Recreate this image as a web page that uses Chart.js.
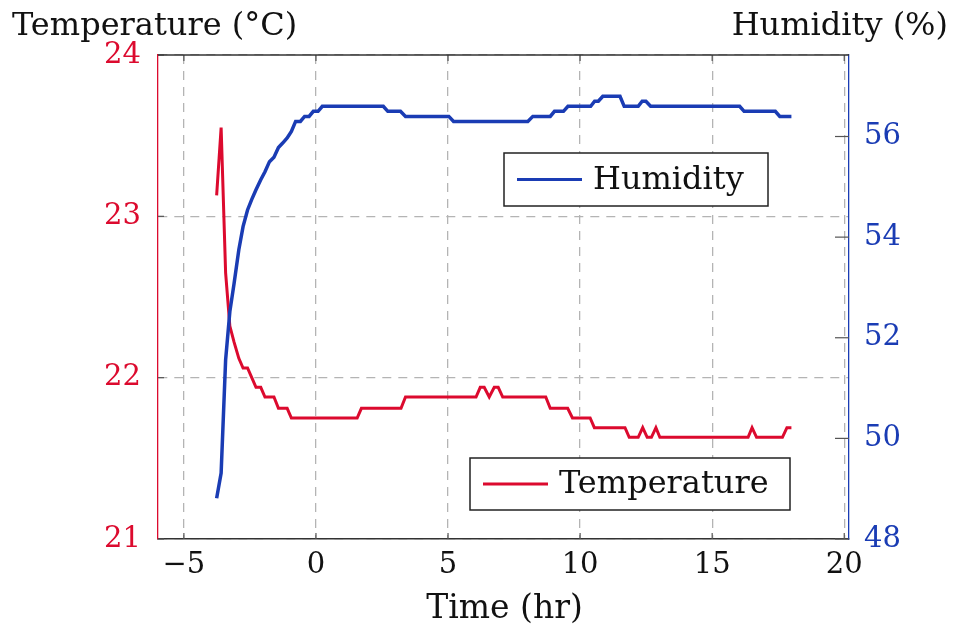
<!DOCTYPE html>
<html>
<head>
<meta charset="utf-8">
<script src="https://cdn.jsdelivr.net/npm/chart.js@4"></script>
<style>
  html, body { margin: 0; padding: 0; background: #fff; }
  #wrap { width: 968px; height: 628px; }
</style>
</head>
<body>
<div id="wrap"><canvas id="c" width="968" height="628"></canvas></div>
<script>
// temperature log (hr, °C)
const tempTime = [-3.76, -3.59, -3.42, -3.26, -3.10, -2.92, -2.76, -2.59, -2.43, -2.27, -2.09, -1.93, -1.59, -1.42, -1.09, -0.93,
  1.56, 1.72, 3.22, 3.39, 6.06, 6.22, 6.37, 6.56, 6.75, 6.90, 7.07, 8.70, 8.87, 9.53, 9.71, 10.38, 10.54, 11.70, 11.86,
  12.20, 12.37, 12.54, 12.70, 12.87, 13.02, 16.36, 16.51, 16.68, 17.66, 17.83, 18.00];
const tempVal = [23.13, 23.55, 22.65, 22.32, 22.22, 22.12, 22.06, 22.06, 22.00, 21.94, 21.94, 21.88, 21.88, 21.81, 21.81, 21.75,
  21.75, 21.81, 21.81, 21.88, 21.88, 21.94, 21.94, 21.88, 21.94, 21.94, 21.88, 21.88, 21.81, 21.81, 21.75, 21.75, 21.69, 21.69, 21.63,
  21.63, 21.69, 21.63, 21.63, 21.69, 21.63, 21.63, 21.69, 21.63, 21.63, 21.69, 21.69];

// humidity log (hr, %)
const humTime = [-3.76, -3.59, -3.42, -3.26, -3.10, -2.92, -2.76, -2.59, -2.43, -2.27, -2.09, -1.93, -1.76, -1.59, -1.42, -1.26,
  -1.09, -0.93, -0.77, -0.59, -0.43, -0.26, -0.10, 0.08, 0.24, 2.55, 2.72, 3.20, 3.39, 5.03, 5.21, 8.02, 8.21, 8.87, 9.03, 9.37,
  9.54, 10.40, 10.55, 10.69, 10.86, 11.51, 11.67, 12.20, 12.35, 12.49, 12.67, 16.04, 16.21, 17.39, 17.56, 18.00];
const humVal = [48.81, 49.31, 51.56, 52.52, 53.08, 53.75, 54.21, 54.54, 54.75, 54.94, 55.14, 55.30, 55.50, 55.59, 55.78, 55.87,
  55.97, 56.10, 56.3, 56.3, 56.4, 56.4, 56.5, 56.5, 56.6, 56.6, 56.5, 56.5, 56.4, 56.4, 56.3, 56.3, 56.4, 56.4, 56.5, 56.5,
  56.6, 56.6, 56.7, 56.7, 56.8, 56.8, 56.6, 56.6, 56.7, 56.7, 56.6, 56.6, 56.5, 56.5, 56.4, 56.4];

const xTicks = [-5, 0, 5, 10, 15, 20];
const tempTicks = [21, 22, 23, 24];
const humTicks = [48, 50, 52, 54, 56];

const RED = '#dc0a2e';
const BLUE = '#1a3cb4';
const SERIF = '"DejaVu Serif", serif';
const GRID_DASH = [9, 7];

function pts(xs, ys) {
  return xs.map((x, i) => ({ x: x, y: ys[i] }));
}

const minus = v => String(v).replace('-', '\u2212');

// frame, inner tick marks, axis titles and the two legend boxes
const decor = {
  id: 'decor',
  afterDraw(chart) {
    const ctx = chart.ctx;
    const a = chart.chartArea;
    const sx = chart.scales.x, sl = chart.scales.yL, sr = chart.scales.yR;
    ctx.save();

    // short tick marks pointing inward
    ctx.lineWidth = 1.2;
    ctx.strokeStyle = '#555';
    xTicks.forEach(v => {
      const px = sx.getPixelForValue(v);
      ctx.beginPath();
      ctx.moveTo(px, a.bottom); ctx.lineTo(px, a.bottom - 6);
      ctx.moveTo(px, a.top); ctx.lineTo(px, a.top + 6);
      ctx.stroke();
    });
    tempTicks.forEach(v => {
      const py = sl.getPixelForValue(v);
      ctx.beginPath(); ctx.moveTo(a.left, py); ctx.lineTo(a.left + 6, py); ctx.stroke();
    });
    humTicks.forEach(v => {
      const py = sr.getPixelForValue(v);
      ctx.beginPath(); ctx.moveTo(a.right, py); ctx.lineTo(a.right - 14, py); ctx.stroke();
    });

    // top edge
    ctx.strokeStyle = '#333';
    ctx.lineWidth = 1.5;
    ctx.beginPath(); ctx.moveTo(a.left, a.top); ctx.lineTo(a.right, a.top); ctx.stroke();

    // titles
    ctx.fillStyle = '#111';
    ctx.font = '32px ' + SERIF;
    ctx.textBaseline = 'middle';
    ctx.textAlign = 'left';
    ctx.fillText('Temperature (\u00b0C)', 12, 27);
    ctx.textAlign = 'right';
    ctx.fillText('Humidity (%)', 948, 27);
    ctx.textAlign = 'center';
    ctx.font = '33px ' + SERIF;
    ctx.fillText('Time (hr)', (a.left + a.right) / 2 + 1, 609);

    // legend boxes
    const boxes = [
      { label: 'Humidity', color: BLUE, x: 504, y: 153, w: 264, h: 53 },
      { label: 'Temperature', color: RED, x: 470, y: 458, w: 320, h: 52 }
    ];
    boxes.forEach(b => {
      ctx.fillStyle = '#fff';
      ctx.fillRect(b.x, b.y, b.w, b.h);
      ctx.strokeStyle = '#222';
      ctx.lineWidth = 1.5;
      ctx.strokeRect(b.x, b.y, b.w, b.h);
      ctx.strokeStyle = b.color;
      ctx.lineWidth = 3.2;
      ctx.beginPath();
      ctx.moveTo(b.x + 13, b.y + b.h / 2);
      ctx.lineTo(b.x + 78, b.y + b.h / 2);
      ctx.stroke();
      ctx.fillStyle = '#111';
      ctx.font = '32px ' + SERIF;
      ctx.textAlign = 'left';
      ctx.textBaseline = 'middle';
      ctx.fillText(b.label, b.x + 89, b.y + b.h / 2 + 1);
    });
    ctx.restore();
  }
};

new Chart(document.getElementById('c'), {
  type: 'line',
  data: {
    datasets: [
      {
        label: 'Humidity',
        data: pts(humTime, humVal),
        yAxisID: 'yR',
        borderColor: BLUE,
        borderWidth: 3.5,
        pointRadius: 0,
        tension: 0,
        fill: false
      },
      {
        label: 'Temperature',
        data: pts(tempTime, tempVal),
        yAxisID: 'yL',
        borderColor: RED,
        borderWidth: 3,
        pointRadius: 0,
        tension: 0,
        fill: false
      }
    ]
  },
  options: {
    responsive: false,
    animation: false,
    devicePixelRatio: 1,
    layout: { padding: { top: 55, left: 0, right: 0, bottom: 0 } },
    plugins: { legend: { display: false }, tooltip: { enabled: false } },
    scales: {
      x: {
        type: 'linear',
        min: -5.98,
        max: 20.18,
        afterBuildTicks: s => { s.ticks = xTicks.map(v => ({ value: v })); },
        afterFit: s => { s.height = 89; },
        ticks: {
          color: '#111',
          font: { family: SERIF, size: 29 },
          padding: 9,
          maxRotation: 0,
          callback: v => minus(v)
        },
        grid: { color: '#b4b4b4', lineWidth: 1.3, drawTicks: false },
        border: { color: '#333', width: 1.5, dash: GRID_DASH }
      },
      yL: {
        type: 'linear',
        position: 'left',
        min: 21,
        max: 24,
        afterBuildTicks: s => { s.ticks = tempTicks.map(v => ({ value: v })); },
        afterFit: s => { s.width = 158; },
        ticks: {
          color: RED,
          font: { family: SERIF, size: 29 },
          padding: 17
        },
        grid: { color: '#b4b4b4', lineWidth: 1.3, drawTicks: false },
        border: { color: RED, width: 1.3, dash: GRID_DASH }
      },
      yR: {
        type: 'linear',
        position: 'right',
        min: 48,
        max: 57.62,
        afterBuildTicks: s => { s.ticks = humTicks.map(v => ({ value: v })); },
        afterFit: s => { s.width = 119; },
        ticks: {
          color: BLUE,
          font: { family: SERIF, size: 29 },
          padding: 15
        },
        grid: { display: false, drawTicks: false },
        border: { color: BLUE, width: 1.3 }
      }
    }
  },
  plugins: [decor]
});
</script>
</body>
</html>
